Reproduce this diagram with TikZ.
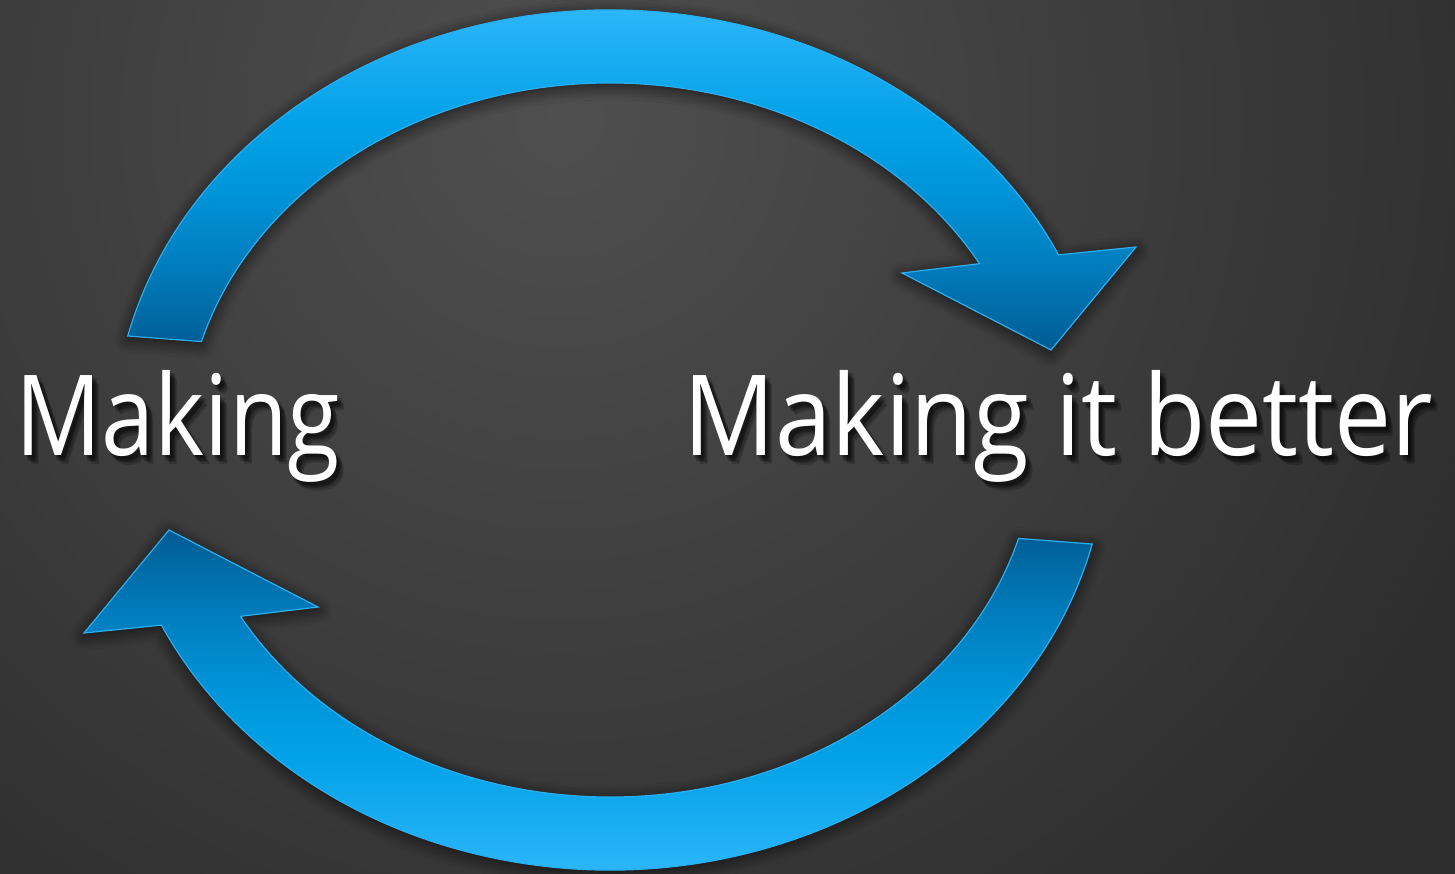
\documentclass[tikz,border=0pt]{standalone}
\usepackage{fontspec}
\setmainfont{Open Sans}
\usetikzlibrary{shadows.blur}
\definecolor{bgA}{HTML}{4F4F4F}
\definecolor{bgB}{HTML}{2E2E2E}
\definecolor{arrowedge}{HTML}{2AAEEE}
\definecolor{aa}{HTML}{005A92}
\definecolor{ab}{HTML}{00659E}
\definecolor{ac}{HTML}{007FC0}
\definecolor{ad}{HTML}{0097DC}
\definecolor{ae}{HTML}{02A2E8}
\definecolor{af}{HTML}{1DAEF3}
\definecolor{ag}{HTML}{3CC0FF}
\pgfdeclareverticalshading{arrowshade}{100bp}{color(0bp)=(aa); color(25bp)=(aa); color(27.9bp)=(ab); color(36.8bp)=(ac); color(47.1bp)=(ad); color(54.4bp)=(ae); color(64.3bp)=(af); color(75bp)=(ag); color(100bp)=(ag)}
\tikzset{
  bigarrow/.style={draw=arrowedge, line width=1.2pt, shading=arrowshade,
    blur shadow={shadow xshift=0pt, shadow yshift=-3pt, shadow blur radius=14pt, shadow opacity=70, shadow blur steps=12}},
  label/.style={anchor=base west, inner sep=0pt, text=white, font=\fontsize{112}{130}\selectfont},
  labelshadow/.style={label, text=black, opacity=0.18}
}
\newcommand\arrowshape{(166:497 and 430) arc[start angle=166, end angle=25.5, x radius=497, y radius=430]
  -- (526,193) -- (441,90) -- (292,167) -- (29.6:425 and 357)
  arc[start angle=29.6, end angle=164, x radius=425, y radius=357] -- cycle}
\begin{document}
\begin{tikzpicture}[x=1pt, y=1pt]
\useasboundingbox (0,0) rectangle (1455,-874);
\fill[bgB] (0,0) rectangle (1455,-874);
\begin{scope}
\clip (0,0) rectangle (1455,-874);
\shade[inner color=bgA, outer color=bgB] (560,-120) circle (1000);
\end{scope}
% arrows
\begin{scope}[shift={(610,-440)}]
\path[bigarrow] \arrowshape;
\end{scope}
\begin{scope}[shift={(610,-440)}, rotate=180]
\path[bigarrow, shading angle=180] \arrowshape;
\end{scope}
% text shadows
\foreach \dx/\dy in {2/-3,4/-5,6/-7,3/-6,5/-3,7/-9} {
  \node[labelshadow] (making-s) at (15+\dx,-455+\dy) {\resizebox{325pt}{\height}{Making}};
  \node[labelshadow] (better-s) at (683+\dx,-455+\dy) {\resizebox{750pt}{\height}{Making it better}};
}
\node[label] (making) at (15,-455) {\resizebox{325pt}{\height}{Making}};
\node[label] (better) at (683,-455) {\resizebox{750pt}{\height}{Making it better}};
\end{tikzpicture}
\end{document}
